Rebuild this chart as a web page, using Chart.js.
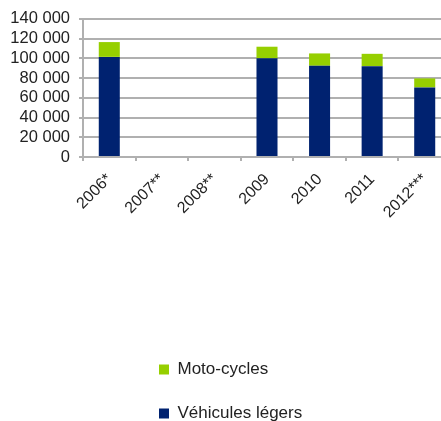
<!DOCTYPE html>
<html><head><meta charset="utf-8">
<script src="https://cdn.jsdelivr.net/npm/chart.js@4/dist/chart.umd.min.js"></script>
<style>
html,body{margin:0;padding:0;background:#fff;overflow:hidden}
#wrap{width:441px;height:421px;overflow:hidden;position:relative;background:#fff}
canvas{display:block}
</style></head><body>
<div id="wrap"><canvas id="c" width="451" height="421" style="width:451px;height:421px"></canvas></div>
<script>
const categories = ['2006*', '2007**', '2008**', '2009', '2010', '2011', '2012***'];
const vehiculesLegers = [101500, null, null, 100000, 92500, 92000, 70500];
const motoCycles = [15000, null, null, 11800, 12500, 12600, 9200];
const yTickLabels = ['0', '20 000', '40 000', '60 000', '80 000', '100 000', '120 000', '140 000'];
const seriesNames = ['Véhicules légers', 'Moto-cycles'];

Chart.defaults.font.family = "'Liberation Sans', Arial, sans-serif";
Chart.defaults.color = '#222';

const legendColumn = {
  id: 'legendColumn',
  afterLayout(chart) {
    const lg = chart.legend;
    if (!lg) return;
    const pad = lg.options.labels.padding;
    lg.left = 159 - pad;
    lg.top = 361 - pad;
    lg.width = 240;
    lg.height = 160;
    lg.right = lg.left + lg.width;
    lg.bottom = lg.top + lg.height;
  }
};

const gridColor = '#b0b0b0';

new Chart(document.getElementById('c'), {
  type: 'bar',
  data: {
    labels: categories,
    datasets: [
      { label: seriesNames[0], data: vehiculesLegers, backgroundColor: '#002270', borderWidth: 0,
        categoryPercentage: 0.8, barPercentage: 0.5 },
      { label: seriesNames[1], data: motoCycles, backgroundColor: '#96cf00', borderWidth: 0,
        categoryPercentage: 0.8, barPercentage: 0.5 }
    ]
  },
  options: {
    responsive: false,
    animation: false,
    devicePixelRatio: 1,
    layout: { padding: { top: 17, left: 0, right: 0, bottom: 0 } },
    plugins: {
      title: { display: false },
      tooltip: { enabled: false },
      legend: {
        display: true,
        position: 'chartArea',
        align: 'start',
        reverse: true,
        labels: {
          boxWidth: 10,
          boxHeight: 10,
          padding: 27,
          color: '#222',
          font: { size: 17 }
        }
      }
    },
    scales: {
      x: {
        stacked: true,
        grid: { display: true, drawOnChartArea: false, drawTicks: true, tickLength: 4, color: gridColor, lineWidth: 2 },
        border: { display: true, color: gridColor, width: 2 },
        ticks: { autoSkip: false, maxRotation: 45, minRotation: 45, padding: 9, color: '#222', font: { size: 16 } },
        afterFit(scale) { scale.height = 264; }
      },
      y: {
        stacked: true,
        min: 0,
        max: 140000,
        grid: { color: gridColor, lineWidth: 2, tickLength: 4, drawTicks: true },
        border: { display: true, color: gridColor, width: 2 },
        ticks: {
          autoSkip: false,
          stepSize: 20000,
          padding: 9,
          color: '#222',
          font: { size: 16.5 },
          callback: (v, i) => yTickLabels[i]
        },
        afterFit(scale) { scale.width = 83; }
      }
    }
  },
  plugins: [legendColumn]
});
</script>
</body></html>
